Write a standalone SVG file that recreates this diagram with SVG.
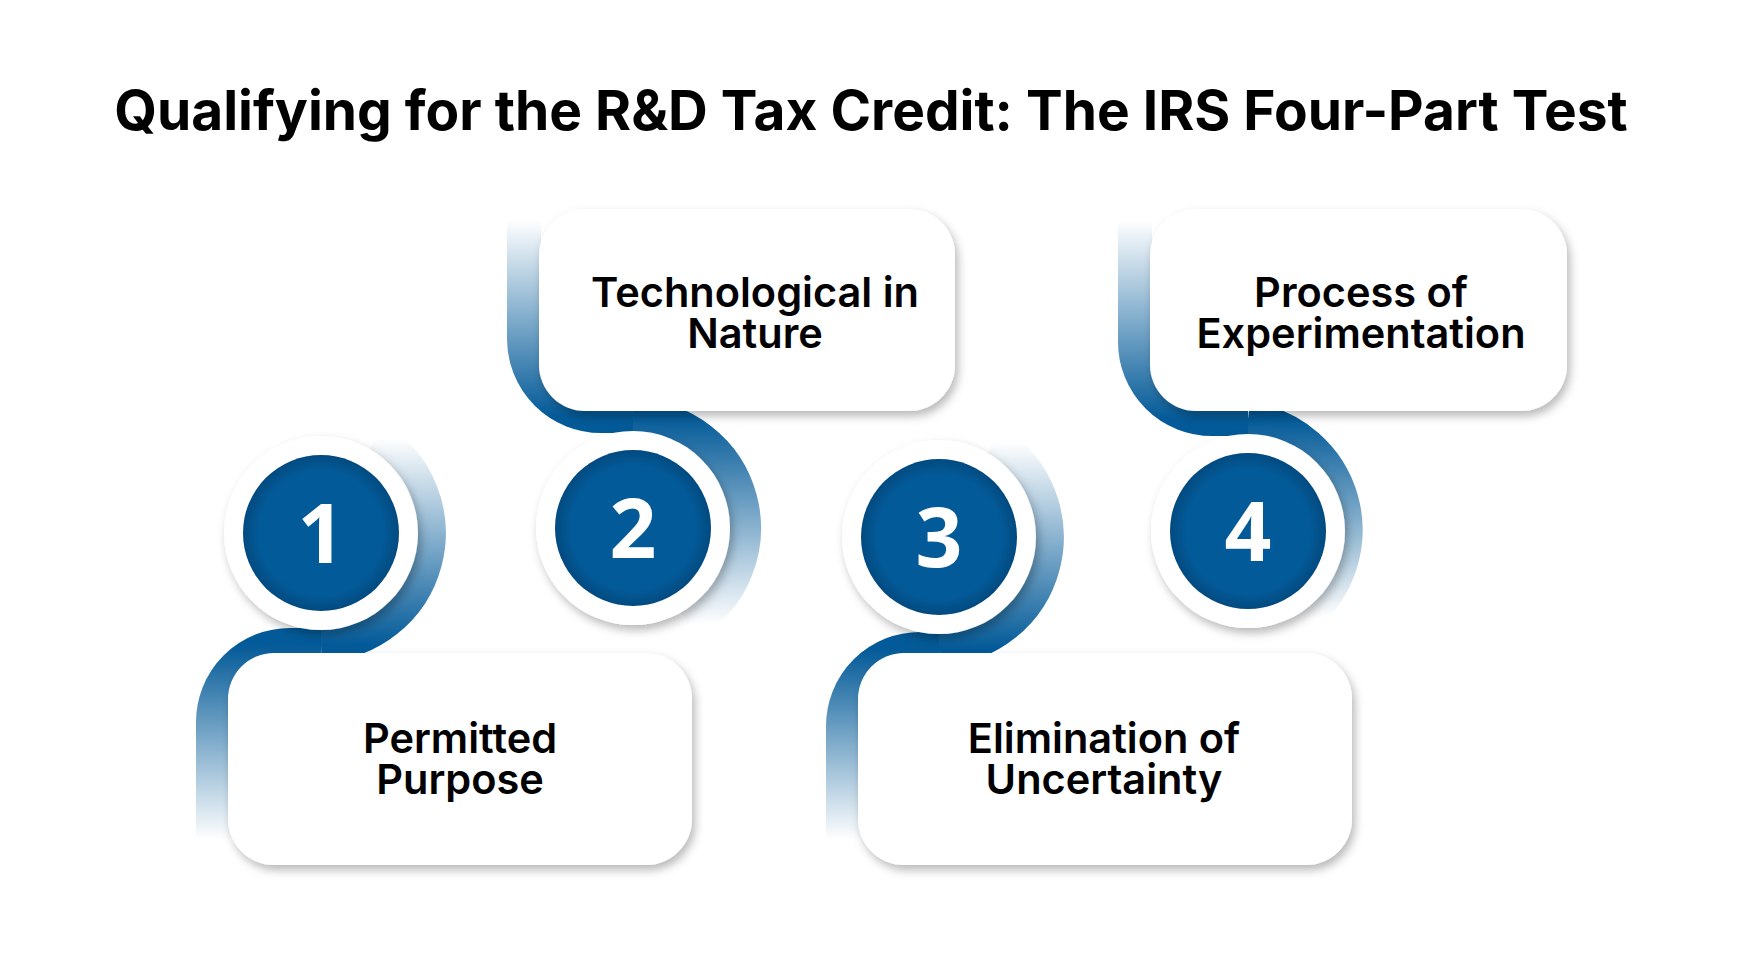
<svg xmlns="http://www.w3.org/2000/svg" width="1742" height="980" viewBox="0 0 1742 980">
<style>
.title{font-family:Inter,"Liberation Sans",sans-serif;font-weight:700;font-size:55px;fill:#000}
.lbl{font-family:Inter,"Liberation Sans",sans-serif;font-weight:600;font-size:41.5px;fill:#000;text-anchor:middle}
.num{font-family:"Open Sans","Liberation Sans",sans-serif;font-weight:700;font-size:82px;fill:#fff;text-anchor:middle}
.box{fill:#fff;filter:url(#sh)}
.ring{fill:#fff;filter:url(#sh)}
.core{fill:url(#core)}
.band{fill:none;stroke-width:34}
</style>
<defs>
<filter id="sh" x="-20%" y="-20%" width="140%" height="140%"><feDropShadow dx="3" dy="5" stdDeviation="5" flood-color="#000" flood-opacity="0.28"/></filter>
<radialGradient id="core"><stop offset="0.8" stop-color="#035a98"/><stop offset="1" stop-color="#024a80"/></radialGradient>
<linearGradient id="up" x1="0" y1="0" x2="0" y2="1"><stop offset="0" stop-color="#035a98" stop-opacity="0"/><stop offset="1" stop-color="#035a98"/></linearGradient>
<linearGradient id="dn" x1="0" y1="0" x2="0" y2="1"><stop offset="0" stop-color="#035a98"/><stop offset="1" stop-color="#035a98" stop-opacity="0"/></linearGradient>
</defs>
<rect width="1742" height="980" fill="#fff"/>
<text class="title" x="871" y="130" text-anchor="middle">Qualifying for the R&amp;D Tax Credit: The IRS Four-Part Test</text>
<g id="connectors">
<path class="band" stroke="url(#up)" d="M376,438 A112,112 0 0 1 321,645"/>
<path class="band" stroke="url(#dn)" d="M321,645 L290,645 A77,77 0 0 0 213,722 L213,840"/>
<path class="band" stroke="url(#dn)" d="M633,416 A112,112 0 0 1 688,625"/>
<path class="band" stroke="url(#up)" d="M524,220 L524,339 A77,77 0 0 0 601,416 L633,416"/>
<path class="band" stroke="url(#up)" d="M994,442 A112,112 0 0 1 939,649"/>
<path class="band" stroke="url(#dn)" d="M939,649 L920,649 A77,77 0 0 0 843,726 L843,840"/>
<path class="band" stroke="url(#dn)" d="M1248,419 A112,112 0 0 1 1303,618"/>
<path class="band" stroke="url(#up)" d="M1135,220 L1135,342 A77,77 0 0 0 1212,419 L1248,419"/>
</g>
<g id="node1">
<rect class="box" x="228" y="653" width="464" height="212" rx="46"/>
<text class="lbl" x="460" y="753">Permitted</text><text class="lbl" x="460" y="794">Purpose</text>
<circle class="ring" cx="321" cy="533" r="97"/><circle class="core" cx="321" cy="533" r="78"/>
<text class="num" x="321" y="563">1</text>
</g>
<g id="node2">
<rect class="box" x="539" y="209" width="416" height="202" rx="46"/>
<text class="lbl" x="755" y="307">Technological in</text><text class="lbl" x="755" y="348">Nature</text>
<circle class="ring" cx="633" cy="528" r="97"/><circle class="core" cx="633" cy="528" r="78"/>
<text class="num" x="633" y="558">2</text>
</g>
<g id="node3">
<rect class="box" x="858" y="653" width="494" height="212" rx="46"/>
<text class="lbl" x="1104" y="753">Elimination of</text><text class="lbl" x="1104" y="794">Uncertainty</text>
<circle class="ring" cx="939" cy="537" r="97"/><circle class="core" cx="939" cy="537" r="78"/>
<text class="num" x="939" y="567">3</text>
</g>
<g id="node4">
<rect class="box" x="1150" y="209" width="417" height="202" rx="46"/>
<text class="lbl" x="1361" y="307">Process of</text><text class="lbl" x="1361" y="348">Experimentation</text>
<circle class="ring" cx="1248" cy="531" r="97"/><circle class="core" cx="1248" cy="531" r="78"/>
<text class="num" x="1248" y="561">4</text>
</g>
</svg>
